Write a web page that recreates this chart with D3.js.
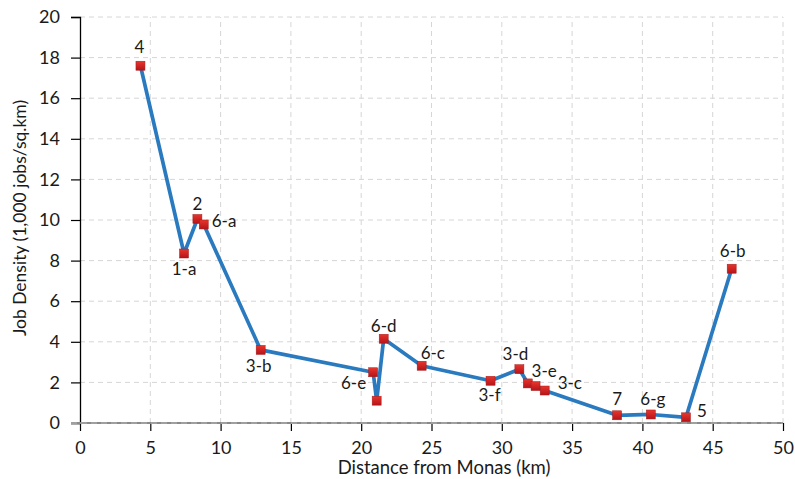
<!DOCTYPE html>
<html>
<head>
<meta charset="utf-8">
<script src="https://cdn.jsdelivr.net/npm/d3@7/dist/d3.min.js"></script>
<style>
  body { margin: 0; background: #fff; }
  svg text { font-family: Lato, "Open Sans", sans-serif; fill: #1a1a1a; }
</style>
</head>
<body>
<svg id="chart" width="795" height="479"></svg>
<script>
// distance from Monas (km) and job density (1,000 jobs/sq.km)
const distances = [4.3, 7.4, 8.35, 8.8, 12.85, 20.85, 21.1, 21.6, 24.3, 29.2, 31.25, 31.85, 32.4, 33.05, 38.2, 40.6, 43.1, 46.35];
const densities = [17.6, 8.35, 10.05, 9.78, 3.6, 2.5, 1.1, 4.15, 2.82, 2.08, 2.65, 1.95, 1.82, 1.6, 0.38, 0.42, 0.28, 7.6];
const pointLabels = ["4", "1-a", "2", "6-a", "3-b", "6-e", "", "6-d", "6-c", "3-f", "3-d", "", "3-e", "3-c", "7", "6-g", "5", "6-b"];
const xTicks = [0, 5, 10, 15, 20, 25, 30, 35, 40, 45, 50];
const yTicks = [0, 2, 4, 6, 8, 10, 12, 14, 16, 18, 20];

const svg = d3.select("#chart");
const margin = { left: 80, right: 12, top: 17, bottom: 56 };

const x = d3.scaleLinear().domain([0, 50]).range([margin.left, 783]);
const y = d3.scaleLinear().domain([0, 20]).range([423, margin.top]);

// label placement around each marker: [dx, dy, anchor]
const labelPlace = {
  "4": [-1, -19, "middle"],
  "1-a": [0, 16, "middle"],
  "2": [0, -15, "middle"],
  "6-a": [8, -3, "start"],
  "3-b": [-2, 16, "middle"],
  "6-e": [-7, 11, "end"],
  "6-d": [0, -13, "middle"],
  "6-c": [-1, -13, "start"],
  "3-f": [-1, 14, "middle"],
  "3-d": [-4, -15, "middle"],
  "3-e": [-4, -15, "start"],
  "3-c": [13, -7, "start"],
  "7": [0, -16, "middle"],
  "6-g": [2, -15, "middle"],
  "5": [11, -6, "start"],
  "6-b": [1, -18, "middle"],
};

// gridlines
const grid = svg.append("g");
grid.selectAll("line.v").data(xTicks.filter((d) => d > 0)).enter().append("line")
  .attr("x1", (d) => x(d)).attr("x2", (d) => x(d))
  .attr("y1", y(0)).attr("y2", y(20))
  .attr("stroke", "#d6d6d6").attr("stroke-dasharray", "5,4");
grid.selectAll("line.h").data(yTicks.filter((d) => d > 0)).enter().append("line")
  .attr("x1", x(0)).attr("x2", x(50))
  .attr("y1", (d) => y(d)).attr("y2", (d) => y(d))
  .attr("stroke", "#d6d6d6").attr("stroke-dasharray", "5,4");

// y axis
const yAxis = svg.append("g").attr("transform", `translate(${x(0)},0)`)
  .call(d3.axisLeft(y).tickValues(yTicks).tickSize(9).tickPadding(11));
yAxis.select(".domain").attr("stroke", "#000").attr("stroke-width", 1.3);
yAxis.selectAll(".tick line").attr("stroke", "#000").attr("stroke-width", 1.2);
yAxis.selectAll(".tick text").style("font-size", "18px").attr("fill", "#1a1a1a");

// x axis
const xAxis = svg.append("g").attr("transform", `translate(0,${y(0)})`)
  .call(d3.axisBottom(x).tickValues(xTicks).tickSize(8).tickPadding(10));
xAxis.select(".domain").remove();
xAxis.selectAll(".tick line").attr("stroke", "#000").attr("stroke-width", 1.2);
xAxis.selectAll(".tick text").style("font-size", "18px").attr("fill", "#1a1a1a");

// zero line (gray, dashed look)
svg.append("line").attr("x1", x(0) - 9).attr("x2", x(50))
  .attr("y1", y(0)).attr("y2", y(0))
  .attr("stroke", "#8a8a8a").attr("stroke-width", 2.2);
svg.append("line").attr("x1", x(0) - 9).attr("x2", x(50))
  .attr("y1", y(0)).attr("y2", y(0))
  .attr("stroke", "#b5b5b5").attr("stroke-width", 1).attr("stroke-dasharray", "6,4");

// axis titles
svg.append("text")
  .attr("x", 444).attr("y", 474)
  .attr("text-anchor", "middle")
  .style("font-size", "18.5px")
  .text("Distance from Monas (km)");
svg.append("text")
  .attr("transform", `translate(26,${(y(0) + y(20)) / 2 - 2}) rotate(-90)`)
  .attr("text-anchor", "middle")
  .style("font-size", "17.5px")
  .text("Job Density (1,000 jobs/sq.km)");

// series
const points = distances.map((d, i) => ({ x: d, y: densities[i], label: pointLabels[i] }));

const defs = svg.append("defs");
const grad = defs.append("linearGradient").attr("id", "markerGrad")
  .attr("x1", 0).attr("y1", 0).attr("x2", 0).attr("y2", 1);
grad.append("stop").attr("offset", "0%").attr("stop-color", "#e8352c");
grad.append("stop").attr("offset", "100%").attr("stop-color", "#b5141a");

const line = d3.line().x((d) => x(d.x)).y((d) => y(d.y));
svg.append("path").datum(points)
  .attr("d", line)
  .attr("fill", "none")
  .attr("stroke", "#2a7abf")
  .attr("stroke-width", 3.7)
  .attr("stroke-linejoin", "round");

svg.append("g").selectAll("rect").data(points).enter().append("rect")
  .attr("x", (d) => x(d.x) - 4.5)
  .attr("y", (d) => y(d.y) - 4.5)
  .attr("width", 9).attr("height", 9)
  .attr("fill", "url(#markerGrad)")
  .attr("stroke", "#a51a1a").attr("stroke-width", 0.5);

svg.append("g").selectAll("text").data(points.filter((d) => d.label)).enter().append("text")
  .attr("x", (d) => x(d.x) + labelPlace[d.label][0])
  .attr("y", (d) => y(d.y) + labelPlace[d.label][1])
  .attr("dy", "0.35em")
  .attr("text-anchor", (d) => labelPlace[d.label][2])
  .style("font-size", "17px")
  .text((d) => d.label);
</script>
</body>
</html>
